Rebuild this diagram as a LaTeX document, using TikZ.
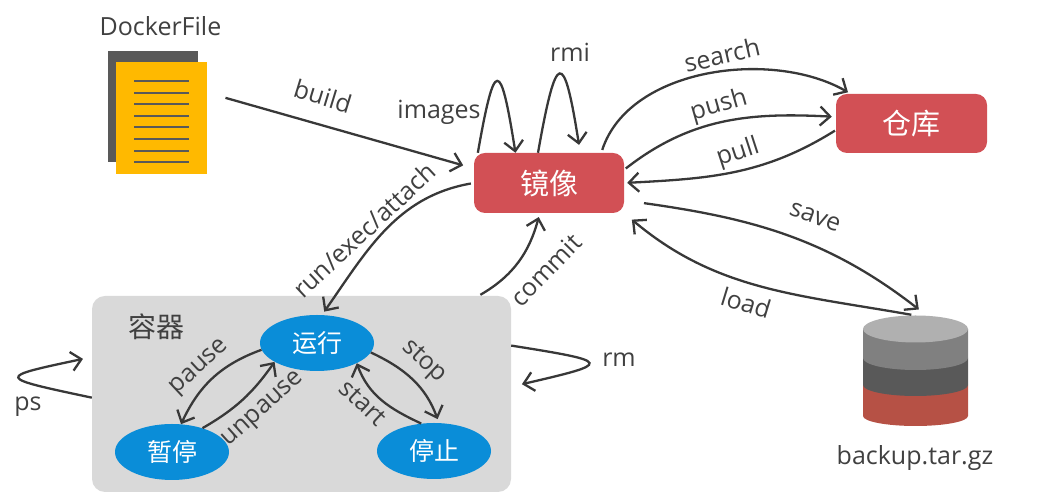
\documentclass[tikz,border=0pt]{standalone}
\usepackage{fontspec}
\setmainfont{Open Sans}
\newfontfamily\cjk{Noto Sans CJK SC}
\usetikzlibrary{arrows.meta,shapes.geometric}
\definecolor{inktext}{HTML}{404040}
\definecolor{redbox}{HTML}{D25055}
\definecolor{bluestate}{HTML}{0A8DD8}
\definecolor{greypanel}{HTML}{D9D9D9}
\definecolor{sheet}{HTML}{FFB900}
\definecolor{darkgrey}{HTML}{595959}
\definecolor{diskred}{HTML}{B65145}
\tikzset{
  lbl/.style={text=inktext,font=\fontsize{25}{25}\selectfont,inner sep=0pt},
  store/.style={draw=none,fill=redbox,rounded corners=11pt,minimum width=150pt,minimum height=60pt,text=white,font=\cjk\fontsize{29}{29}\selectfont},
  state/.style={ellipse,fill=bluestate,minimum width=114pt,minimum height=56pt,inner sep=0pt,text=white,font=\cjk\fontsize{25}{25}\selectfont},
  conn/.style={->,>={Straight Barb[length=10pt,width=19pt]},line width=2.3pt,color=black!78}
}
\begin{document}
\begin{tikzpicture}[x=1pt,y=1pt]
\useasboundingbox (0,0) rectangle (1053,502);
% dockerfile
\fill[darkgrey] (108,340) rectangle (198,451);
\node (doc)[fill=sheet,minimum width=91pt,minimum height=112pt,inner sep=0pt] at (161.5,384) {};
\foreach \ly in {81,93,104,116,127,139,151,162}
  \draw[darkgrey,line width=2pt] (134,502-\ly) -- (189,502-\ly);
\node (dockerlbl)[lbl] at (160.5,476) {DockerFile};
% main boxes
\node (mirror)[store] at (549,319) {镜像};
\node (repo)[store,minimum width=151pt,minimum height=59pt] at (911.5,378.5) {仓库};
% container
\node (box)[fill=greypanel,rounded corners=13pt,minimum width=419pt,minimum height=196pt,inner sep=0pt] at (301.5,108) {};
\node (boxlbl)[lbl,font=\cjk\fontsize{28}{28}\selectfont] at (156,175) {容器};
\node (run)[state] at (317,159) {运行};
\node (paused)[state] at (172,50) {暂停};
\node (stopped)[state] at (434,51) {停止};
% backup disk
\fill[diskred] (863,86) arc[start angle=180,end angle=360,x radius=52.5pt,y radius=10pt] -- (968,117) -- (863,117) -- cycle;
\fill[darkgrey] (863,117) arc[start angle=180,end angle=360,x radius=52.5pt,y radius=11pt] -- (968,144) -- (863,144) -- cycle;
\fill[black!50] (863,144) arc[start angle=180,end angle=360,x radius=52.5pt,y radius=12pt] -- (968,173) -- (863,173) -- cycle;
\node (disk)[ellipse,fill=black!31,minimum width=105pt,minimum height=27pt,inner sep=0pt] at (915.5,173) {};
\node (backuplbl)[lbl] at (915,44) {backup.tar.gz};
% connectors
\draw[conn,shorten <=19pt,shorten >=11pt] (doc.29) -- (mirror.169);
\path[conn]
  (mirror.157) edge[out=80,in=99,looseness=6.6] (mirror.138)
  (mirror.110) edge[out=80,in=99,looseness=6.4,shorten >=8pt] (mirror.44)
  (mirror.30) edge[out=72,in=150,looseness=.9,shorten <=3pt,shorten >=3pt] (repo.154)
  (mirror.10) edge[out=38,in=177,shorten <=2pt,shorten >=4pt] (repo.175)
  (repo.185) edge[out=212,in=3,shorten <=1pt,shorten >=3pt] (mirror.east)
  (mirror.-13) edge[out=-8,in=142,shorten <=20pt,shorten >=10pt] (disk.50)
  (disk.95) edge[out=170,in=-40,shorten <=3pt,shorten >=10pt] (mirror.south east)
  (box.29) edge[out=30,in=255,shorten <=2pt,shorten >=4pt] (mirror.-107)
  (mirror.west) edge[out=190,in=55,shorten <=3pt,shorten >=4pt] (run.80)
  (box.13) edge[out=-9,in=13,looseness=6.5,shorten >=11pt] (box.2)
  (box.181) edge[out=168,in=192,looseness=6.2,shorten >=9pt] (box.170)
  (run.187) edge[out=200,in=65] (paused.72)
  (paused.38) edge[out=30,in=235] (run.204)
  (run.-10) edge[out=-25,in=110,shorten >=4pt] (stopped.80)
  (stopped.115) edge[out=155,in=-70] (run.-27);
% labels
\node (buildlbl)[lbl,rotate=-17] at (323,406) {build};
\node (imageslbl)[lbl] at (439,390) {images};
\node (rmilbl)[lbl] at (570,450) {rmi};
\node (searchlbl)[lbl,rotate=13] at (722,447) {search};
\node (pushlbl)[lbl,rotate=16] at (719,396) {push};
\node (pulllbl)[lbl,rotate=18] at (738,349) {pull};
\node (savelbl)[lbl,rotate=-20] at (815,285) {save};
\node (loadlbl)[lbl,rotate=-17] at (746,199) {load};
\node (commitlbl)[lbl,rotate=46] at (546,232) {commit};
\node (attachlbl)[lbl,rotate=43] at (364,272) {run/exec/attach};
\node (rmlbl)[lbl] at (619,142) {rm};
\node (pslbl)[lbl] at (28,95) {ps};
\node (pauselbl)[lbl,rotate=43] at (200,134) {pause};
\node (unpauselbl)[lbl,rotate=42] at (264,92) {unpause};
\node (stoplbl)[lbl,rotate=-43] at (424,140) {stop};
\node (startlbl)[lbl,rotate=-43] at (363,99) {start};
\end{tikzpicture}
\end{document}
